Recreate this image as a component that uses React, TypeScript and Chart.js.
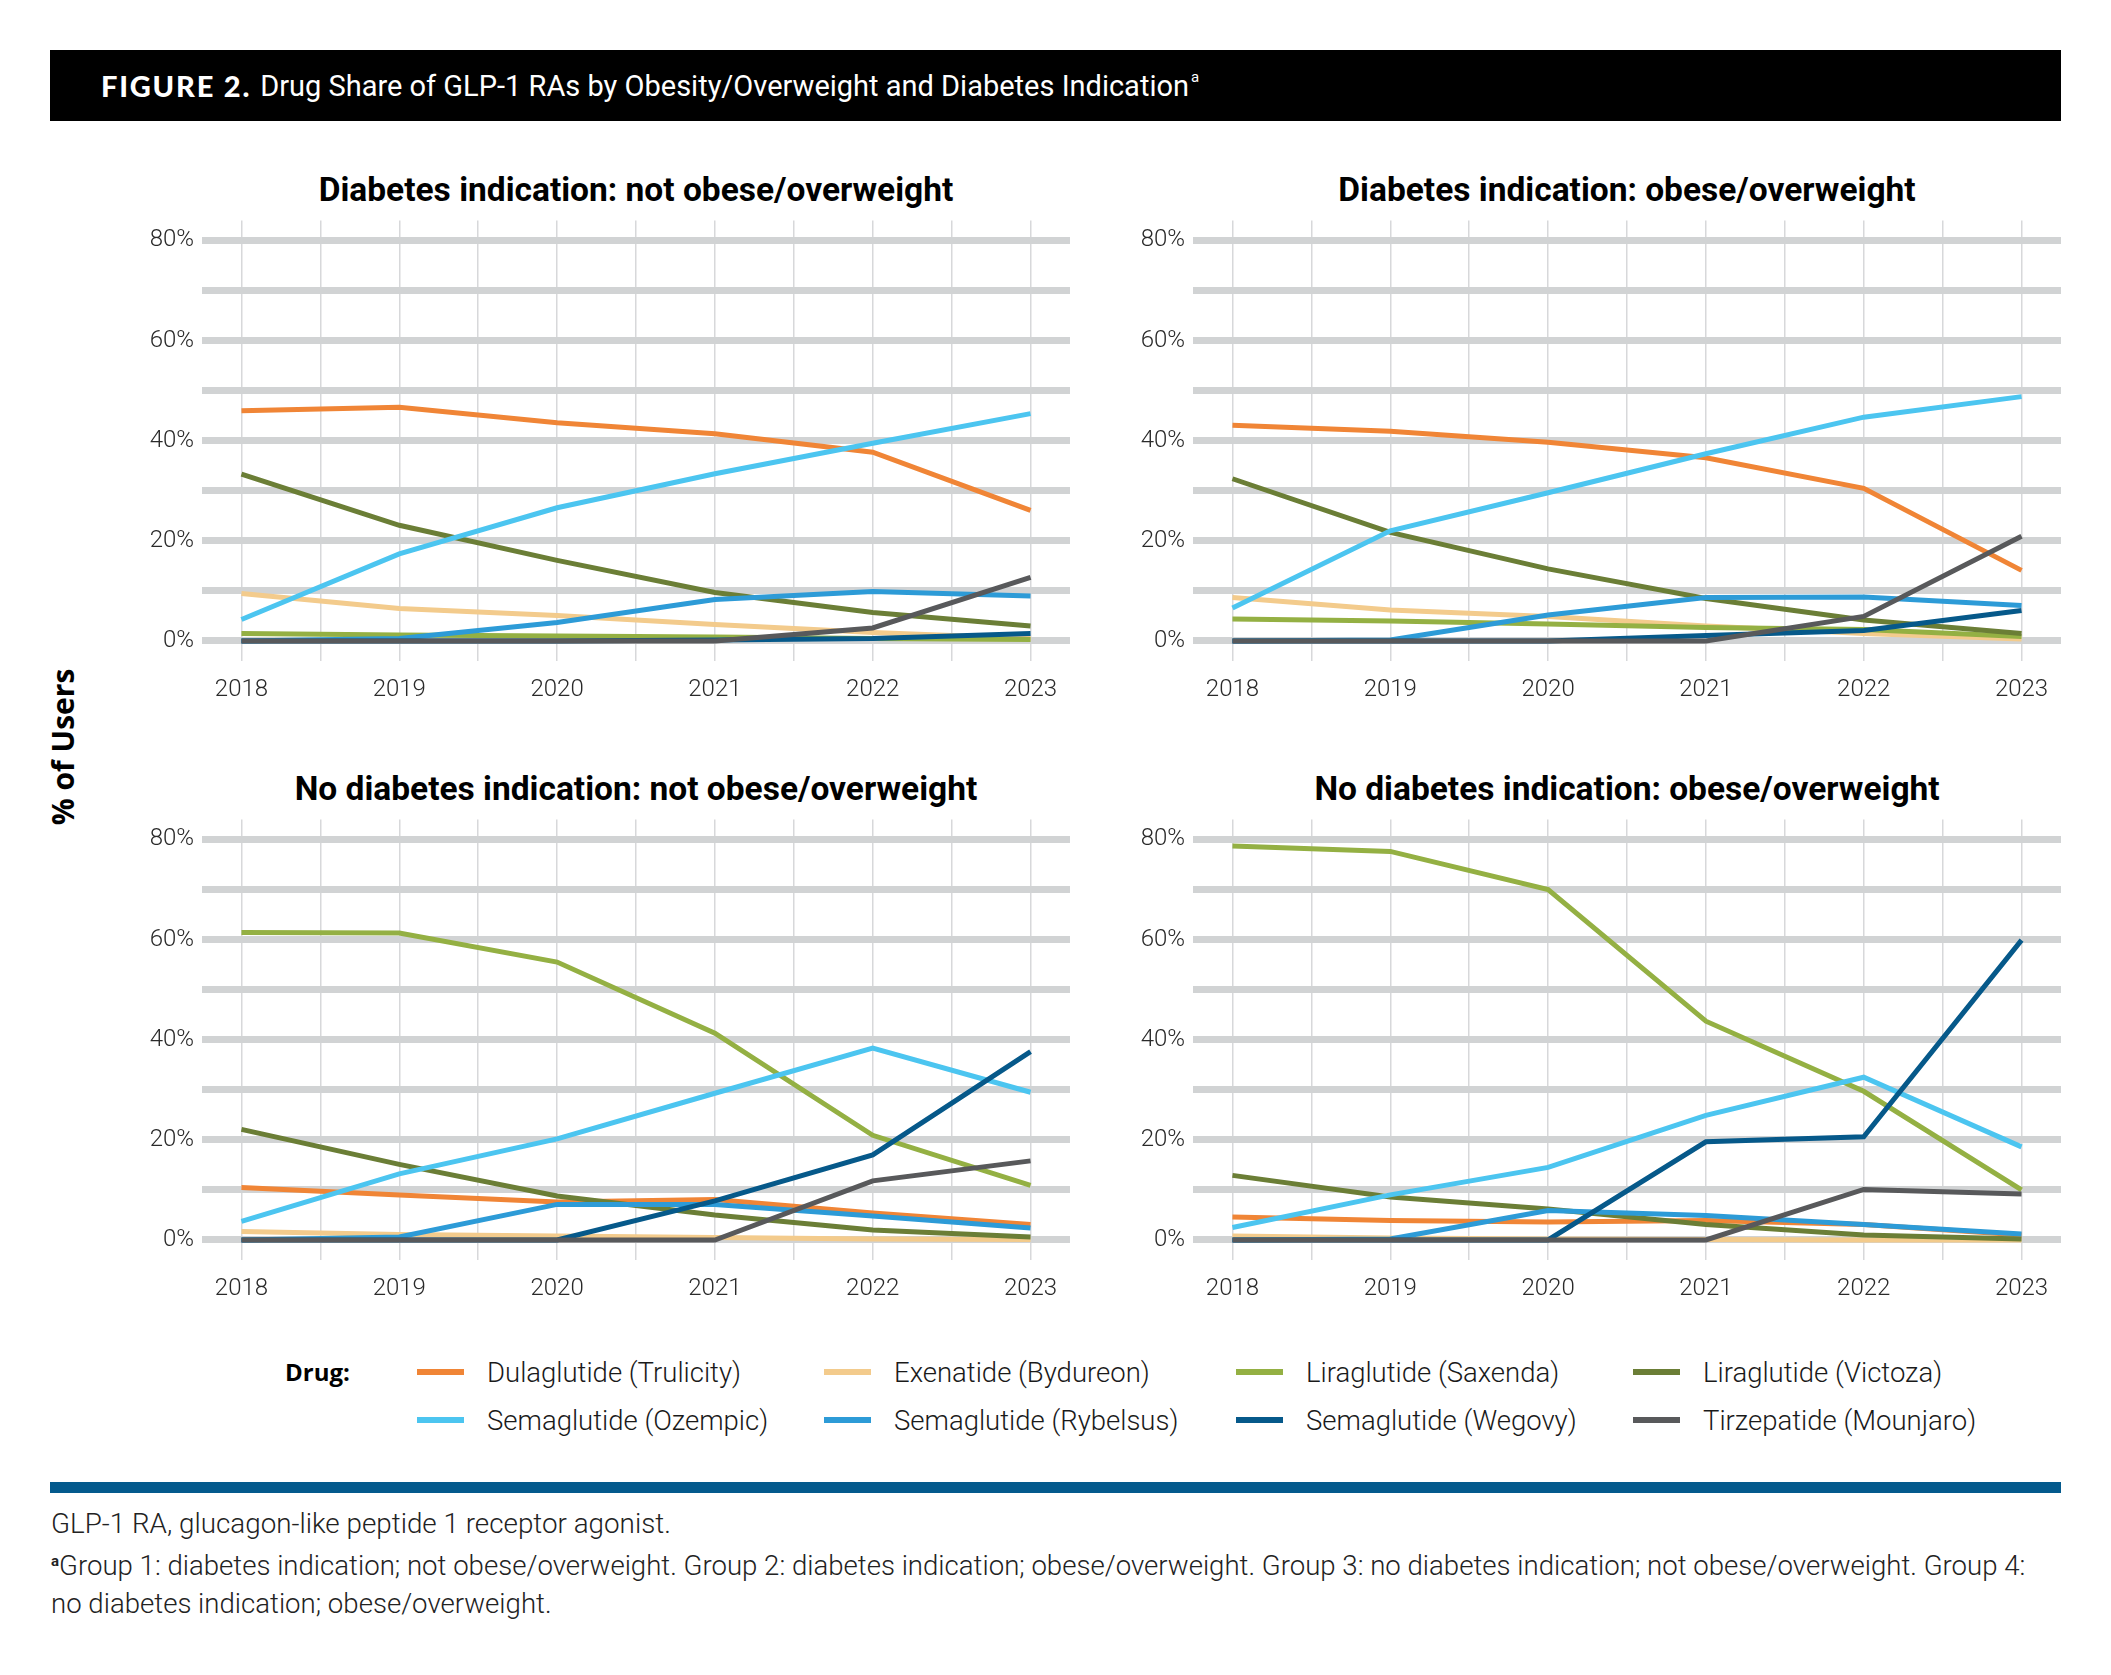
import React, { useEffect, useRef } from "react";
import { Chart, registerables } from "chart.js";
Chart.register(...registerables);

const YEARS = [2018, 2019, 2020, 2021, 2022, 2023];
const X_GRID = [2018, 2018.5, 2019, 2019.5, 2020, 2020.5, 2021, 2021.5, 2022, 2022.5, 2023];
const Y_GRID = [0, 10, 20, 30, 40, 50, 60, 70, 80];
const Y_LABELS = [0, 20, 40, 60, 80];

const DRUGS = [
  "Dulaglutide (Trulicity)",
  "Exenatide (Bydureon)",
  "Liraglutide (Saxenda)",
  "Liraglutide (Victoza)",
  "Semaglutide (Ozempic)",
  "Semaglutide (Rybelsus)",
  "Semaglutide (Wegovy)",
  "Tirzepatide (Mounjaro)",
];
const COLORS = ["#F08536", "#F3CB8C", "#94B043", "#6B7E36", "#4CC5F0", "#2D9BD7", "#06598A", "#58595B"];

const PANEL_TITLES = [
  "Diabetes indication: not obese/overweight",
  "Diabetes indication: obese/overweight",
  "No diabetes indication: not obese/overweight",
  "No diabetes indication: obese/overweight",
];

// Group 1: diabetes indication, not obese/overweight
const G1_DULAGLUTIDE = [46.0, 46.7, 43.6, 41.4, 37.7, 26.1];
const G1_EXENATIDE = [9.5, 6.5, 5.1, 3.3, 1.7, 0.5];
const G1_SAXENDA = [1.5, 1.2, 1.0, 0.8, 0.5, 0.3];
const G1_VICTOZA = [33.3, 23.1, 16.1, 9.7, 5.7, 3.0];
const G1_OZEMPIC = [4.3, 17.4, 26.6, 33.4, 39.5, 45.4];
const G1_RYBELSUS = [0, 0.5, 3.7, 8.3, 9.9, 9.0];
const G1_WEGOVY = [0, 0, 0, 0.2, 0.5, 1.5];
const G1_TIRZEPATIDE = [0, 0, 0, 0, 2.6, 12.7];

// Group 2: diabetes indication, obese/overweight
const G2_DULAGLUTIDE = [43.1, 41.9, 39.7, 36.6, 30.5, 14.1];
const G2_EXENATIDE = [8.7, 6.2, 4.9, 3.0, 1.5, 0.4];
const G2_SAXENDA = [4.4, 4.0, 3.4, 2.7, 2.3, 0.9];
const G2_VICTOZA = [32.4, 21.7, 14.4, 8.5, 4.2, 1.5];
const G2_OZEMPIC = [6.6, 22.0, 29.6, 37.4, 44.7, 48.8];
const G2_RYBELSUS = [0, 0.2, 5.2, 8.7, 8.8, 7.1];
const G2_WEGOVY = [0, 0, 0, 1.1, 2.1, 6.1];
const G2_TIRZEPATIDE = [0, 0, 0, 0, 4.9, 20.9];

// Group 3: no diabetes indication, not obese/overweight
const G3_DULAGLUTIDE = [10.5, 9.0, 7.6, 8.1, 5.4, 3.1];
const G3_EXENATIDE = [1.7, 1.1, 0.8, 0.5, 0.2, 0.1];
const G3_SAXENDA = [61.4, 61.3, 55.5, 41.3, 20.9, 10.9];
const G3_VICTOZA = [22.1, 15.1, 8.8, 5.0, 2.0, 0.6];
const G3_OZEMPIC = [3.7, 13.2, 20.2, 29.3, 38.3, 29.5];
const G3_RYBELSUS = [0, 0.6, 7.1, 7.1, 4.8, 2.4];
const G3_WEGOVY = [0, 0, 0, 7.8, 17.0, 37.6];
const G3_TIRZEPATIDE = [0, 0, 0, 0, 11.8, 15.8];

// Group 4: no diabetes indication, obese/overweight
const G4_DULAGLUTIDE = [4.6, 3.9, 3.6, 3.9, 3.1, 1.0];
const G4_EXENATIDE = [0.8, 0.4, 0.2, 0.1, 0, 0];
const G4_SAXENDA = [78.7, 77.6, 70.0, 43.7, 29.7, 10.0];
const G4_VICTOZA = [12.9, 8.6, 6.2, 3.1, 1.0, 0.2];
const G4_OZEMPIC = [2.5, 9.0, 14.5, 24.9, 32.5, 18.6];
const G4_RYBELSUS = [0, 0.2, 5.9, 4.9, 3.1, 1.2];
const G4_WEGOVY = [0, 0, 0, 19.6, 20.6, 59.9];
const G4_TIRZEPATIDE = [0, 0, 0, 0, 10.1, 9.2];

const GROUP_SERIES = [
  [G1_DULAGLUTIDE, G1_EXENATIDE, G1_SAXENDA, G1_VICTOZA, G1_OZEMPIC, G1_RYBELSUS, G1_WEGOVY, G1_TIRZEPATIDE],
  [G2_DULAGLUTIDE, G2_EXENATIDE, G2_SAXENDA, G2_VICTOZA, G2_OZEMPIC, G2_RYBELSUS, G2_WEGOVY, G2_TIRZEPATIDE],
  [G3_DULAGLUTIDE, G3_EXENATIDE, G3_SAXENDA, G3_VICTOZA, G3_OZEMPIC, G3_RYBELSUS, G3_WEGOVY, G3_TIRZEPATIDE],
  [G4_DULAGLUTIDE, G4_EXENATIDE, G4_SAXENDA, G4_VICTOZA, G4_OZEMPIC, G4_RYBELSUS, G4_WEGOVY, G4_TIRZEPATIDE],
];

const TICK_FONT = "Roboto";
const Y_AXIS_W = 82;
const X_AXIS_H = 52;
const PAD_TOP = 20;
const PAD_RIGHT = 5;

function Panel(props: { series: number[][]; left: number; top: number; width: number; height: number }) {
  const ref = useRef<HTMLCanvasElement>(null);
  useEffect(() => {
    const chart = new Chart(ref.current as HTMLCanvasElement, {
      type: "line",
      data: {
        datasets: DRUGS.map((d, i) => ({
          label: d,
          data: YEARS.map((yr, j) => ({ x: yr, y: props.series[i][j] })),
          borderColor: COLORS[i],
          backgroundColor: COLORS[i],
          borderWidth: 5,
          pointRadius: 0,
          tension: 0,
          order: DRUGS.length - i,
        })),
      },
      options: {
        animation: false,
        responsive: false,
        maintainAspectRatio: false,
        devicePixelRatio: 1,
        layout: { padding: { left: 0, right: PAD_RIGHT, top: PAD_TOP, bottom: 0 } },
        plugins: { legend: { display: false }, tooltip: { enabled: false }, title: { display: false } },
        scales: {
          x: {
            type: "linear",
            min: 2017.75,
            max: 2023.25,
            afterBuildTicks: (s: any) => {
              s.ticks = X_GRID.map((v) => ({ value: v }));
            },
            afterFit: (s: any) => {
              s.height = X_AXIS_H;
            },
            grid: { color: "#d7d8da", lineWidth: 1.5, drawTicks: false },
            border: { display: false },
            ticks: {
              autoSkip: false,
              maxRotation: 0,
              padding: 15,
              color: "#2a2a2a",
              font: { family: TICK_FONT, size: 24, weight: 300 as any },
              callback: (v: any) => (Number.isInteger(Number(v)) ? String(v) : ""),
            },
          },
          y: {
            type: "linear",
            min: -4,
            max: 84,
            afterBuildTicks: (s: any) => {
              s.ticks = Y_GRID.map((v) => ({ value: v }));
            },
            afterFit: (s: any) => {
              s.width = Y_AXIS_W;
            },
            grid: { color: "#d1d3d4", lineWidth: 7, drawTicks: false },
            border: { display: false },
            ticks: {
              autoSkip: false,
              padding: 8,
              color: "#2a2a2a",
              font: { family: TICK_FONT, size: 24, weight: 300 as any },
              callback: (v: any) => (Y_LABELS.includes(Number(v)) ? v + "%" : ""),
            },
          },
        },
      },
    });
    return () => chart.destroy();
  }, []);
  return (
    <canvas
      ref={ref}
      width={props.width}
      height={props.height}
      style={{ position: "absolute", left: props.left, top: props.top, width: props.width, height: props.height }}
    />
  );
}

// chart-area geometry (page pixels)
const AREA_X = [202, 1193];
const AREA_Y = [218, 817];
const AREA_W = 868;
const AREA_H = 443;
const TITLE_Y = [190, 789];

export default function App() {
  const panels = [0, 1, 2, 3].map((k) => {
    const col = k % 2;
    const row = Math.floor(k / 2);
    const left = AREA_X[col] - Y_AXIS_W;
    const top = AREA_Y[row] - PAD_TOP;
    const width = Y_AXIS_W + AREA_W + PAD_RIGHT;
    const height = PAD_TOP + AREA_H + X_AXIS_H;
    return { k, col, row, left, top, width, height };
  });
  const legendCols = [417, 824, 1236, 1633];
  const legendRows = [1372, 1420];
  return (
    <div style={{ position: "absolute", left: 0, top: 0, width: 2111, height: 1675, background: "#fff", overflow: "hidden" }}>
      <div
        style={{
          position: "absolute",
          left: 50,
          top: 50,
          width: 2011,
          height: 71,
          background: "#000",
          color: "#fff",
          display: "flex",
          alignItems: "center",
          paddingLeft: 51,
          boxSizing: "border-box",
          fontFamily: "Roboto",
          fontSize: 29,
          whiteSpace: "nowrap",
        }}
      >
        <span style={{ fontFamily: "Lato", fontWeight: 900, letterSpacing: 1.8 }}>FIGURE 2.</span>
        <span style={{ marginLeft: 9 }}>Drug Share of GLP-1 RAs by Obesity/Overweight and Diabetes Indication</span>
        <span style={{ fontSize: 15, position: "relative", top: -9, marginLeft: 2 }}>a</span>
      </div>

      {panels.map((p) => (
        <div
          key={"t" + p.k}
          style={{
            position: "absolute",
            left: AREA_X[p.col] + AREA_W / 2 - 500,
            width: 1000,
            top: TITLE_Y[p.row] - 22,
            height: 44,
            lineHeight: "44px",
            textAlign: "center",
            fontFamily: "Roboto",
            fontWeight: 700,
            fontSize: 33.5,
            color: "#000",
            whiteSpace: "nowrap",
          }}
        >
          {PANEL_TITLES[p.k]}
        </div>
      ))}

      {panels.map((p) => (
        <Panel key={"c" + p.k} series={GROUP_SERIES[p.k]} left={p.left} top={p.top} width={p.width} height={p.height} />
      ))}

      <div
        style={{
          position: "absolute",
          left: 63 - 150,
          top: 747 - 22,
          width: 300,
          height: 44,
          lineHeight: "44px",
          textAlign: "center",
          transform: "rotate(-90deg)",
          fontFamily: "Open Sans",
          fontWeight: 700,
          fontSize: 30,
          color: "#000",
        }}
      >
        % of Users
      </div>

      <div
        style={{
          position: "absolute",
          left: 285,
          top: legendRows[0] - 18,
          height: 36,
          lineHeight: "36px",
          fontFamily: "Open Sans",
          fontWeight: 700,
          fontSize: 24,
          color: "#000",
        }}
      >
        Drug:
      </div>
      {DRUGS.map((d, i) => {
        const x = legendCols[i % 4];
        const y = legendRows[Math.floor(i / 4)];
        return (
          <div key={"l" + i} style={{ position: "absolute", left: x, top: y - 18, height: 36, display: "flex", alignItems: "center" }}>
            <div style={{ width: 47, height: 6, background: COLORS[i] }} />
            <div style={{ marginLeft: 23, fontFamily: "Roboto", fontWeight: 300, fontSize: 27.5, color: "#1a1a1a", whiteSpace: "nowrap" }}>{d}</div>
          </div>
        );
      })}

      <div style={{ position: "absolute", left: 50, top: 1482, width: 2011, height: 11, background: "#045A8D" }} />

      <div style={{ position: "absolute", left: 51, top: 1507, fontFamily: "Roboto", fontWeight: 300, fontSize: 27.8, color: "#222", lineHeight: "34px", whiteSpace: "nowrap" }}>
        GLP-1 RA, glucagon-like peptide 1 receptor agonist.
      </div>
      <div style={{ position: "absolute", left: 51, top: 1549, fontFamily: "Roboto", fontWeight: 300, fontSize: 27.6, color: "#222", lineHeight: "33px", whiteSpace: "nowrap" }}>
        <span style={{ fontSize: 15, fontWeight: 700, position: "relative", top: -9 }}>a</span>
        Group 1: diabetes indication; not obese/overweight. Group 2: diabetes indication; obese/overweight. Group 3: no diabetes indication; not obese/overweight. Group 4:
        <br />
        no diabetes indication; obese/overweight.
      </div>
    </div>
  );
}
